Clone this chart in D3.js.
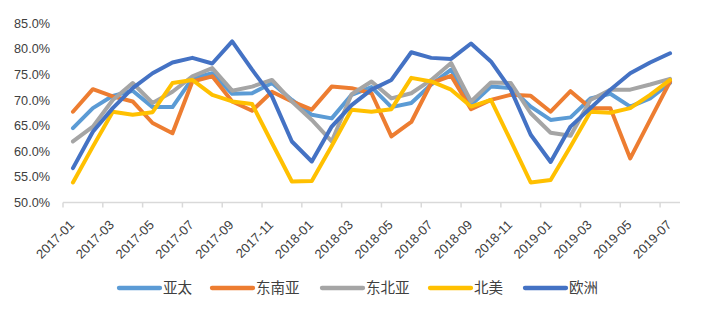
<!DOCTYPE html>
<html>
<head>
<meta charset="utf-8">
<script src="https://cdn.jsdelivr.net/npm/d3@7"></script>
<style>
  body { margin: 0; background: #fff; }
  svg { display: block; }
</style>
</head>
<body>
<div id="chart"></div>
<script>
const width = 706;
const height = 315;

// months 2017-01 .. 2019-07
const months = [
  "2017-01","2017-02","2017-03","2017-04","2017-05","2017-06","2017-07","2017-08","2017-09","2017-10","2017-11","2017-12",
  "2018-01","2018-02","2018-03","2018-04","2018-05","2018-06","2018-07","2018-08","2018-09","2018-10","2018-11","2018-12",
  "2019-01","2019-02","2019-03","2019-04","2019-05","2019-06","2019-07"
];

// values in percent
const apac = [64.5, 68.4, 70.8, 71.8, 68.6, 68.6, 74.2, 75.2, 71.2, 71.3, 73.3, 70.0, 67.1, 66.4, 71.0, 72.5,
  68.6, 69.4, 73.0, 75.9, 69.0, 72.6, 72.3, 68.7, 66.1, 66.6, 70.3, 71.2, 68.7, 70.3, 73.3];
const seAsia = [67.7, 72.1, 70.7, 69.7, 65.5, 63.5, 73.6, 74.6, 69.7, 67.9, 71.6, 69.7, 68.1, 72.6, 72.3, 71.3,
  62.9, 65.7, 73.3, 74.7, 68.2, 70.0, 71.0, 70.8, 67.7, 71.7, 68.4, 68.4, 58.6, 66.1, 73.6];
const neAsia = [61.9, 64.8, 70.0, 73.3, 69.4, 71.6, 74.6, 76.2, 71.8, 72.6, 73.9, 69.7, 66.1, 61.9, 71.1, 73.6,
  70.3, 71.3, 73.9, 77.2, 69.7, 73.4, 73.3, 67.4, 63.6, 63.0, 70.0, 72.0, 72.0, 73.0, 74.1];
const northAmerica = [53.9, 60.9, 67.7, 67.1, 67.6, 73.3, 73.9, 71.0, 69.7, 69.2, 61.6, 54.1, 54.2, 61.0, 68.1, 67.7,
  68.2, 74.3, 73.6, 72.0, 68.7, 70.0, 62.0, 53.9, 54.4, 60.9, 67.7, 67.5, 68.4, 71.0, 73.9];
const europe = [56.7, 63.8, 68.4, 72.3, 75.2, 77.3, 78.2, 77.1, 81.4, 75.9, 70.7, 61.9, 58.0, 64.8, 69.0, 72.0,
  73.9, 79.3, 78.2, 78.0, 81.0, 77.5, 72.0, 63.2, 57.9, 64.8, 68.4, 72.0, 75.2, 77.3, 79.1];

const seriesNames = ["亚太", "东南亚", "东北亚", "北美", "欧洲"];
const seriesValues = [apac, seAsia, neAsia, northAmerica, europe];
const colors = ["#5B9BD5", "#ED7D31", "#A5A5A5", "#FFC000", "#4472C4"];
const yTicks = [0.50, 0.55, 0.60, 0.65, 0.70, 0.75, 0.80, 0.85];

const textColor = "#404040";

const svg = d3.select("#chart").append("svg")
  .attr("width", width)
  .attr("height", height);

const x = d3.scaleBand()
  .domain(months)
  .range([63, 680])
  .padding(0);

const y = d3.scaleLinear()
  .domain([0.5, 0.85])
  .range([202.5, 23]);

// y axis (labels only)
const yAxis = svg.append("g")
  .attr("transform", "translate(50,0)")
  .call(d3.axisLeft(y).tickValues(yTicks).tickFormat(d3.format(".1%")).tickSize(0).tickPadding(0))
  .call(g => g.select(".domain").remove());
yAxis.selectAll("text")
  .attr("fill", textColor)
  .style("font-family", "'Liberation Sans', Arial, sans-serif")
  .style("font-size", "12.7px");

// x axis line + ticks every two months
const axisY = y(0.5);
svg.append("line")
  .attr("x1", x.range()[0]).attr("x2", x.range()[1])
  .attr("y1", axisY).attr("y2", axisY)
  .attr("stroke", "#d9d9d9").attr("stroke-width", 1.5);

const labelled = months.filter((m, i) => i % 2 === 0);
svg.append("g").selectAll("line")
  .data(labelled)
  .join("line")
  .attr("x1", d => x(d)).attr("x2", d => x(d))
  .attr("y1", axisY).attr("y2", axisY + 5)
  .attr("stroke", "#d9d9d9").attr("stroke-width", 1.5);

svg.append("g").selectAll("text")
  .data(labelled)
  .join("text")
  .attr("transform", d => `translate(${x(d) + x.bandwidth() / 2 - 1},${axisY + 20}) rotate(-45)`)
  .attr("text-anchor", "end")
  .attr("dy", "0.35em")
  .attr("fill", textColor)
  .style("font-family", "'Liberation Sans', Arial, sans-serif")
  .style("font-size", "13px")
  .text(d => d);

// lines
const line = d3.line()
  .x((d, i) => x(months[i]) + x.bandwidth() / 2)
  .y(d => y(d / 100));

svg.append("g").selectAll("path")
  .data(seriesValues)
  .join("path")
  .attr("d", d => line(d))
  .attr("fill", "none")
  .attr("stroke", (d, i) => colors[i])
  .attr("stroke-width", 4)
  .attr("stroke-linejoin", "round")
  .attr("stroke-linecap", "round");

// legend
const legendX = [117, 210, 320, 428, 523];
const legend = svg.append("g").selectAll("g")
  .data(seriesNames)
  .join("g")
  .attr("transform", (d, i) => `translate(${legendX[i]},288)`);

legend.append("line")
  .attr("x1", 2).attr("x2", 43)
  .attr("stroke", (d, i) => colors[i])
  .attr("stroke-width", 4.3)
  .attr("stroke-linecap", "round");

legend.append("text")
  .attr("x", 46)
  .attr("dy", "0.35em")
  .attr("fill", textColor)
  .style("font-family", "'Noto Sans CJK SC', sans-serif")
  .style("font-size", "14.5px")
  .text(d => d);
</script>
</body>
</html>
